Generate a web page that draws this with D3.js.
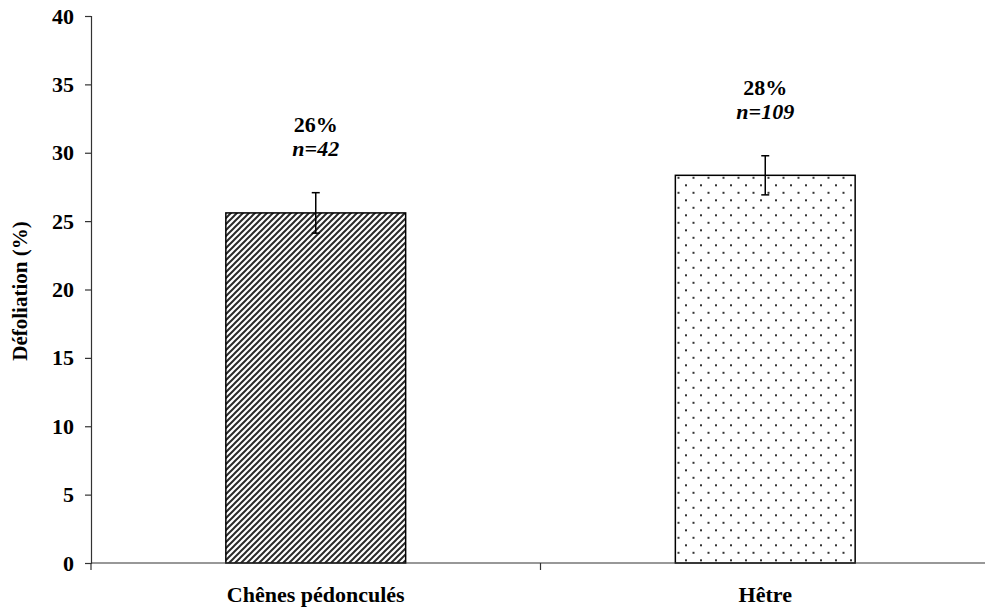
<!DOCTYPE html>
<html>
<head>
<meta charset="utf-8">
<script src="https://cdn.jsdelivr.net/npm/d3@7"></script>
<style>
  html, body { margin: 0; padding: 0; background: #fff; }
  svg { display: block; }
  text { font-family: "Liberation Serif", "Times New Roman", serif; font-weight: bold; fill: #000; }
</style>
</head>
<body>
<script>
// Mean defoliation per species, with its standard error and sample size
const species = ["Chênes pédonculés", "Hêtre"];
const defoliation = [25.6, 28.35];
const stdError = [1.48, 1.43];
const sampleSize = [42, 109];
const percentLabels = ["26%", "28%"];
const patterns = ["hatch", "dots"];
const yTicks = [0, 5, 10, 15, 20, 25, 30, 35, 40];

const W = 985, H = 607;
const margin = { left: 91, right: -5, top: 16, bottom: 44 };

const svg = d3.select("body").append("svg")
  .attr("width", W).attr("height", H);

const defs = svg.append("defs");

// Diagonal hatching for the oaks
const hatch = defs.append("pattern")
  .attr("id", "hatch")
  .attr("patternUnits", "userSpaceOnUse")
  .attr("width", 6).attr("height", 6);
hatch.append("rect").attr("width", 6).attr("height", 6).attr("fill", "#fff");
hatch.append("path")
  .attr("d", "M-1,1 l2,-2 M0,6 l6,-6 M5,7 l2,-2")
  .attr("stroke", "#2a2a2a").attr("stroke-width", 2);

// Staggered dot grid for beech
const dots = defs.append("pattern")
  .attr("id", "dots")
  .attr("patternUnits", "userSpaceOnUse")
  .attr("x", 676).attr("y", 175)
  .attr("width", 15).attr("height", 15);
dots.append("rect").attr("width", 15).attr("height", 15).attr("fill", "#fff");
dots.append("rect").attr("x", 1.5).attr("y", 1.8).attr("width", 2).attr("height", 2).attr("fill", "#333");
dots.append("rect").attr("x", 9).attr("y", 9.3).attr("width", 2).attr("height", 2).attr("fill", "#333");

const x = d3.scaleBand()
  .domain(species)
  .range([margin.left, W - margin.right])
  .paddingInner(0.6)
  .paddingOuter(0.3);

const y = d3.scaleLinear()
  .domain([0, 40])
  .range([H - margin.bottom, margin.top]);

// Bars
svg.append("g").selectAll("rect")
  .data(species)
  .join("rect")
  .attr("x", d => x(d))
  .attr("width", x.bandwidth())
  .attr("y", (d, i) => y(defoliation[i]))
  .attr("height", (d, i) => y(0) - y(defoliation[i]))
  .attr("fill", (d, i) => `url(#${patterns[i]})`)
  .attr("stroke", "#000")
  .attr("stroke-width", 1.5);

// Error bars
const err = svg.append("g").attr("stroke", "#000").attr("stroke-width", 1.5);
species.forEach((s, i) => {
  const cx = x(s) + x.bandwidth() / 2;
  const hi = y(defoliation[i] + stdError[i]);
  const lo = y(defoliation[i] - stdError[i]);
  err.append("line").attr("x1", cx).attr("x2", cx).attr("y1", hi).attr("y2", lo);
  err.append("line").attr("x1", cx - 4).attr("x2", cx + 4).attr("y1", hi).attr("y2", hi);
  err.append("line").attr("x1", cx - 4).attr("x2", cx + 4).attr("y1", lo).attr("y2", lo);
});

// Value and sample-size annotations above each error bar
const ann = svg.append("g").attr("text-anchor", "middle").style("font-size", "22px");
species.forEach((s, i) => {
  const cx = x(s) + x.bandwidth() / 2;
  const top = y(defoliation[i] + stdError[i]);
  ann.append("text").attr("x", cx).attr("y", top - 61).text(percentLabels[i]);
  ann.append("text").attr("x", cx).attr("y", top - 37)
    .style("font-style", "italic").text("n=" + sampleSize[i]);
});

// Y axis
const yAxis = svg.append("g")
  .attr("transform", `translate(${margin.left},0)`)
  .call(d3.axisLeft(y).tickValues(yTicks).tickSize(6).tickPadding(11));
yAxis.select(".domain").attr("stroke", "#333").attr("stroke-width", 1.2);
yAxis.selectAll(".tick line").attr("stroke", "#333").attr("stroke-width", 1.2);
yAxis.selectAll(".tick text")
  .style("font-family", "'Liberation Serif', 'Times New Roman', serif")
  .style("font-weight", "bold").style("font-size", "22px").attr("fill", "#000");

// X axis with boundary ticks between categories
const xAxisG = svg.append("g").attr("transform", `translate(0,${y(0)})`);
xAxisG.append("line")
  .attr("x1", margin.left).attr("x2", W)
  .attr("stroke", "#333").attr("stroke-width", 1.2);
const step = x.step();
const bounds = d3.range(species.length + 1).map(k => x.range()[0] + k * step);
xAxisG.selectAll(".bound")
  .data(bounds)
  .join("line")
  .attr("class", "bound")
  .attr("x1", d => d).attr("x2", d => d)
  .attr("y1", 0).attr("y2", 7)
  .attr("stroke", "#333").attr("stroke-width", 1.2);

// Category labels
svg.append("g").attr("text-anchor", "middle").style("font-size", "22px")
  .selectAll("text")
  .data(species)
  .join("text")
  .attr("x", d => x(d) + x.bandwidth() / 2)
  .attr("y", 602)
  .text(d => d);

// Y axis title
svg.append("text")
  .attr("transform", `translate(27,291) rotate(-90)`)
  .attr("text-anchor", "middle")
  .style("font-size", "21px")
  .text("Défoliation (%)");
</script>
</body>
</html>
